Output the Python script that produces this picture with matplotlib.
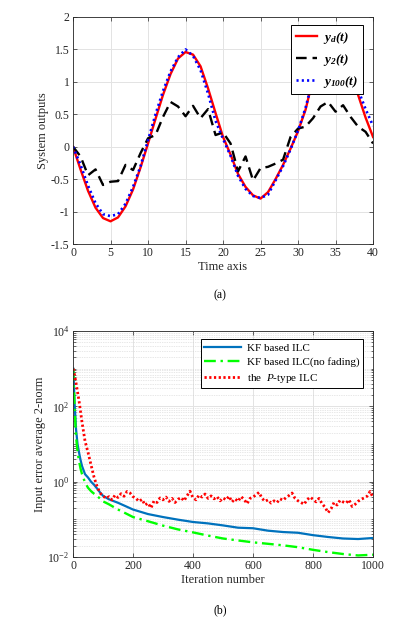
import numpy as np
import matplotlib
matplotlib.use('Agg')
import matplotlib.pyplot as plt
from matplotlib.ticker import LogLocator, FixedLocator, NullFormatter

# ---------------- fonts ----------------
plt.rcParams['font.family'] = 'Liberation Serif'
plt.rcParams['mathtext.fontset'] = 'custom'
plt.rcParams['mathtext.rm'] = 'Liberation Serif'
plt.rcParams['mathtext.it'] = 'Liberation Serif:italic'
plt.rcParams['mathtext.bf'] = 'Liberation Serif:bold'
plt.rcParams['mathtext.bfit'] = 'Liberation Serif:bold:italic'
plt.rcParams['axes.unicode_minus'] = False

# ---------------- data (a) ----------------
t = list(range(41))
y_d = [0, -0.35, -0.68, -0.94, -1.10, -1.15, -1.09, -0.92, -0.66, -0.32,
       0.05, 0.43, 0.80, 1.12, 1.36, 1.46, 1.42, 1.24, 0.90, 0.52,
       0.15, -0.12, -0.42, -0.62, -0.75, -0.80, -0.70, -0.50, -0.28, -0.03,
       0.24, 0.57, 1.05, 1.30, 1.40, 1.38, 1.26, 1.06, 0.80, 0.45, 0.15]
y_2 = [0, -0.15, -0.44, -0.35, -0.59, -0.54, -0.53, -0.28, -0.36, -0.10,
       0.13, 0.18, 0.46, 0.69, 0.62, 0.47, 0.63, 0.44, 0.58, 0.18,
       0.22, 0.05, -0.38, -0.15, -0.52, -0.33, -0.31, -0.26, -0.20, 0.15,
       0.28, 0.31, 0.44, 0.62, 0.69, 0.54, 0.64, 0.46, 0.31, 0.23, 0.05]
y_100 = [0, -0.28, -0.60, -0.87, -1.04, -1.07, -1.04, -0.88, -0.62, -0.30,
         0.10, 0.50, 0.86, 1.16, 1.38, 1.50, 1.40, 1.18, 0.82, 0.40,
         0.12, -0.14, -0.45, -0.65, -0.76, -0.79, -0.74, -0.52, -0.30, -0.04,
         0.25, 0.60, 1.05, 1.30, 1.42, 1.42, 1.32, 1.12, 0.88, 0.58, 0.32]

# ---------------- data (b) ----------------
kf_iter = [1, 5, 10, 15, 20, 25, 30, 40, 50, 60, 70, 80, 90, 100, 120, 150, 175,
           200, 250, 300, 350, 400, 450, 500, 550, 600, 650, 700, 750, 800, 850,
           900, 950, 1000]
kf_ilc = [1000, 132, 25, 10, 6.0, 3.8, 2.6, 1.58, 1.29, 1.0, 0.83, 0.66, 0.52,
          0.42, 0.34, 0.275, 0.224, 0.182, 0.138, 0.115, 0.098, 0.085, 0.078,
          0.069, 0.060, 0.058, 0.050, 0.046, 0.044, 0.038, 0.034, 0.031, 0.030,
          0.032]
kf_nofade = [1000, 100, 15.8, 6.3, 3.55, 2.24, 1.58, 0.955, 0.69, 0.56, 0.48,
             0.42, 0.355, 0.30, 0.25, 0.182, 0.145, 0.115, 0.089, 0.068, 0.054,
             0.045, 0.037, 0.031, 0.0275, 0.0245, 0.0224, 0.0204, 0.0182, 0.0155,
             0.0135, 0.012, 0.011, 0.0115]

p_iter = [1] + list(range(10, 1001, 10))
p_ilc = [1000, 420, 141, 38, 12, 6.0, 2.8, 1.32, 0.76, 0.50,
         0.42, 0.36, 0.40, 0.33, 0.44, 0.38, 0.48, 0.41, 0.55, 0.50,
         0.40, 0.36, 0.30, 0.34, 0.24, 0.27, 0.20, 0.31, 0.28, 0.37,
         0.33, 0.39, 0.30, 0.36, 0.28, 0.34, 0.38, 0.31, 0.42, 0.56,
         0.37, 0.33, 0.44, 0.39, 0.47, 0.36, 0.42, 0.35, 0.40, 0.31,
         0.37, 0.33, 0.41, 0.29, 0.35, 0.30, 0.40, 0.34, 0.26, 0.36,
         0.39, 0.45, 0.52, 0.36, 0.30, 0.33, 0.27, 0.31, 0.28, 0.35,
         0.32, 0.38, 0.43, 0.50, 0.36, 0.31, 0.28, 0.25, 0.33, 0.39,
         0.34, 0.29, 0.36, 0.26, 0.21, 0.15, 0.19, 0.28, 0.24, 0.32,
         0.29, 0.27, 0.33, 0.22, 0.25, 0.30, 0.34, 0.37, 0.41, 0.55, 0.38]

TXT = '#262626'

def style_axes(ax):
  for s in ax.spines.values():
    s.set_color(TXT)
    s.set_linewidth(0.6)
  ax.tick_params(direction='in', top=True, right=True, length=3, width=0.5,
                 labelsize=8.5, colors=TXT, pad=2.5)
  ax.tick_params(which='minor', direction='in', top=True, right=True,
                 length=1.8, width=0.4)

fig = plt.figure(figsize=(3.99, 6.22), dpi=100)

# ---------------- (a) ----------------
ax1 = fig.add_axes([0.183, 0.6077, 0.752, 0.365])
ax1.plot(t, y_d, color='#ff0000', lw=1.7, label=r'$\mathbfit{y_d(t)}$')
ax1.plot(t, y_2, color='black', lw=1.7, ls=(0, (4.5, 2.5)), label=r'$\mathbfit{y_2(t)}$')
ax1.plot(t, y_100, color='#0000ff', lw=1.9, ls=(0, (0.8, 1.2)), label=r'$\mathbfit{y_{100}(t)}$')
ax1.set_xlim(0, 40)
ax1.set_ylim(-1.5, 2)
ax1.set_xticks(range(0, 41, 5))
ax1.set_yticks([-1.5, -1, -0.5, 0, 0.5, 1, 1.5, 2])
ax1.set_yticklabels(['-1.5', '-1', '-0.5', '0', '0.5', '1', '1.5', '2'])
ax1.grid(True, color='#e3e3e3', lw=0.7)
ax1.set_axisbelow(True)
style_axes(ax1)
ax1.set_xlabel('Time axis', fontsize=9, color=TXT, labelpad=1)
ax1.set_ylabel('System outputs', fontsize=9, color=TXT, labelpad=1)
leg1 = ax1.legend(loc='upper right', bbox_to_anchor=(0.967, 0.963), borderaxespad=0,
                  fontsize=9.5, fancybox=False, framealpha=1, edgecolor='black',
                  handlelength=1.6, labelspacing=0.45, handletextpad=0.5,
                  borderpad=0.35)
leg1.get_frame().set_linewidth(0.7)
fig.text(0.551, 0.526, '(a)', ha='center', va='center', fontsize=8.5)

# ---------------- (b) ----------------
ax2 = fig.add_axes([0.183, 0.1045, 0.752, 0.3633])
ax2.plot(kf_iter, kf_ilc, color='#0072bd', lw=1.6, label='KF based ILC')
ax2.plot(kf_iter, kf_nofade, color='#00ff00', lw=1.7, ls=(0, (5, 2, 1, 2)),
         label='KF based ILC(no fading)')
ax2.plot(p_iter, p_ilc, color='#ff0000', lw=2.0, ls=(0, (0.8, 0.9)),
         label='the  $P$-type ILC')
ax2.set_yscale('log')
ax2.set_xlim(0, 1000)
ax2.set_ylim(1e-2, 1e4)
ax2.set_xticks(range(0, 1001, 200))
ax2.yaxis.set_major_locator(FixedLocator([1e-2, 1e0, 1e2, 1e4]))
ax2.set_yticklabels([r'$10^{-2}$', r'$10^{0}$', r'$10^{2}$', r'$10^{4}$'])
ax2.yaxis.set_minor_locator(LogLocator(base=10, subs=np.arange(1, 10), numticks=20))
ax2.yaxis.set_minor_formatter(NullFormatter())
ax2.grid(True, which='major', color='#e3e3e3', lw=0.7)
ax2.grid(True, which='minor', axis='y', color='#d0d0d0', lw=0.5, ls=(0, (1, 1.5)))
ax2.set_axisbelow(True)
style_axes(ax2)
ax2.set_xlabel('Iteration number', fontsize=9, color=TXT, labelpad=1)
ax2.set_ylabel('Input error average 2-norm', fontsize=9, color=TXT, labelpad=1)
leg2 = ax2.legend(loc='upper right', bbox_to_anchor=(0.967, 0.965), borderaxespad=0,
                  fontsize=8, fancybox=False, framealpha=1, edgecolor='black',
                  handlelength=3.3, labelspacing=0.4, handletextpad=0.5,
                  borderpad=0.35)
leg2.get_frame().set_linewidth(0.7)
fig.text(0.551, 0.019, '(b)', ha='center', va='center', fontsize=8.5)

fig.savefig('out.png', dpi=100)
